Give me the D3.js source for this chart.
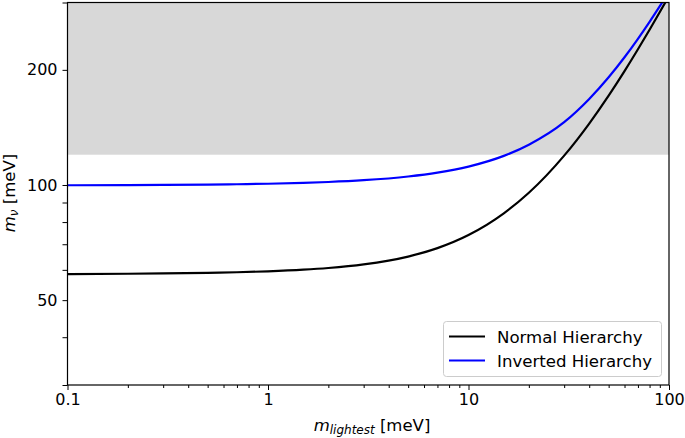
<!DOCTYPE html>
<html>
<head>
<meta charset="utf-8">
<script src="https://cdn.jsdelivr.net/npm/d3@7"></script>
<style>
  body { margin: 0; background: #fff; }
  svg { display: block; font-family: "DejaVu Sans", sans-serif; }
</style>
</head>
<body>
<svg id="chart" width="685" height="438"></svg>
<script>
// Data
const mLightest = [0.1, 0.2, 0.3, 0.5, 0.7, 1, 1.5, 2, 3, 5, 7, 10, 15, 20, 30, 40, 50, 60, 70, 80, 90, 100];
const normalHierarchy = [58.51, 58.61, 58.72, 58.93, 59.14, 59.48, 60.06, 60.68, 62.01, 65.0, 68.38, 73.98, 84.30, 95.41, 119.32, 144.77, 171.28, 198.56, 226.41, 254.68, 283.26, 312.06];
const invertedHierarchy = [99.85, 99.95, 100.05, 100.25, 100.46, 100.77, 101.29, 101.83, 102.93, 105.25, 107.73, 111.73, 119.16, 127.47, 145.97, 167.87, 191.25, 215.72, 241.05, 266.96, 293.4, 319.88];
const seriesNames = ["Normal Hierarchy", "Inverted Hierarchy"];
const seriesColors = ["#000000", "#0000ff"];
const excludedBand = [120, 300];
const xDomain = [0.1, 100];
const yDomain = [30, 300];
const xMajorTicks = [0.1, 1, 10, 100];
const xTickLabels = ["0.1", "1", "10", "100"];
const xMinorTicks = [0.2,0.3,0.4,0.5,0.6,0.7,0.8,0.9,2,3,4,5,6,7,8,9,20,30,40,50,60,70,80,90];
const yMajorTicks = [50, 100, 200];
const yTickLabels = ["50", "100", "200"];
const yMinorTicks = [30, 40, 60, 70, 80, 90, 300];

const svg = d3.select("#chart");
const L = 67.5, R = 669, T = 2.5, B = 385;
const x = d3.scaleLog().domain(xDomain).range([L, R]);
const y = d3.scaleLog().domain(yDomain).range([B, T]);

// shaded band
svg.append("rect")
  .attr("x", L).attr("width", R - L)
  .attr("y", y(excludedBand[1])).attr("height", y(excludedBand[0]) - y(excludedBand[1]))
  .attr("fill", "#d8d8d8");

// lines
const clipId = "plotclip";
svg.append("clipPath").attr("id", clipId).append("rect")
  .attr("x", L).attr("y", T).attr("width", R - L).attr("height", B - T);
const line = d3.line().x(d => x(d[0])).y(d => y(d[1])).curve(d3.curveMonotoneX);
[normalHierarchy, invertedHierarchy].forEach((vals, i) => {
  svg.append("path")
    .datum(mLightest.map((m, j) => [m, vals[j]]))
    .attr("clip-path", `url(#${clipId})`)
    .attr("fill", "none")
    .attr("stroke", seriesColors[i])
    .attr("stroke-width", 2.2)
    .attr("d", line);
});

// axes
const fmtX = d => xTickLabels[xMajorTicks.indexOf(d)];
const fmtY = d => yTickLabels[yMajorTicks.indexOf(d)];
const xAxis = svg.append("g").attr("transform", `translate(0,${B})`)
  .call(d3.axisBottom(x).tickValues(xMajorTicks).tickFormat(fmtX).tickSize(5).tickPadding(4));
const xAxisMinor = svg.append("g").attr("transform", `translate(0,${B})`)
  .call(d3.axisBottom(x).tickValues(xMinorTicks).tickFormat("").tickSize(3));
const yAxis = svg.append("g").attr("transform", `translate(${L},0)`)
  .call(d3.axisLeft(y).tickValues(yMajorTicks).tickFormat(fmtY).tickSize(5).tickPadding(5));
const yAxisMinor = svg.append("g").attr("transform", `translate(${L},0)`)
  .call(d3.axisLeft(y).tickValues(yMinorTicks).tickFormat("").tickSize(5));
[xAxis, xAxisMinor, yAxis, yAxisMinor].forEach(g => {
  g.select(".domain").remove();
  g.selectAll("line").attr("stroke", "#000").attr("stroke-width", 1);
  g.selectAll("text").attr("font-size", 16).attr("fill", "#000").attr("font-family", "DejaVu Sans, sans-serif");
});

// frame
svg.append("rect").attr("x", L).attr("y", T).attr("width", R - L).attr("height", B - T)
  .attr("fill", "none").attr("stroke", "#000").attr("stroke-width", 1.2);

// axis labels
const xl = svg.append("text").attr("x", 372).attr("y", 431).attr("text-anchor", "middle")
  .attr("font-size", 16.5).attr("fill", "#000");
xl.append("tspan").attr("font-style", "italic").text("m");
xl.append("tspan").attr("font-style", "italic").attr("font-size", 12).attr("dy", 3).text("lightest");
xl.append("tspan").attr("dy", -3).text(" [meV]");

const yl = svg.append("text").attr("transform", "translate(14.5,193) rotate(-90)")
  .attr("text-anchor", "middle").attr("font-size", 16.5).attr("fill", "#000");
yl.append("tspan").attr("font-style", "italic").text("m");
yl.append("tspan").attr("font-style", "italic").attr("font-size", 12).attr("dy", 3).text("ν");
yl.append("tspan").attr("dy", -3).text(" [meV]");

// legend
const lg = svg.append("g");
lg.append("rect").attr("x", 443.5).attr("y", 321.5).attr("width", 218).attr("height", 55)
  .attr("rx", 3).attr("fill", "#fff").attr("fill-opacity", 0.8)
  .attr("stroke", "#cccccc").attr("stroke-width", 1);
seriesNames.forEach((name, i) => {
  const yy = 336.5 + i * 24;
  lg.append("line").attr("x1", 449).attr("x2", 485).attr("y1", yy).attr("y2", yy)
    .attr("stroke", seriesColors[i]).attr("stroke-width", 2.2);
  lg.append("text").attr("x", 497).attr("y", yy + 6).attr("font-size", 16.6).attr("fill", "#000").text(name);
});
</script>
</body>
</html>
